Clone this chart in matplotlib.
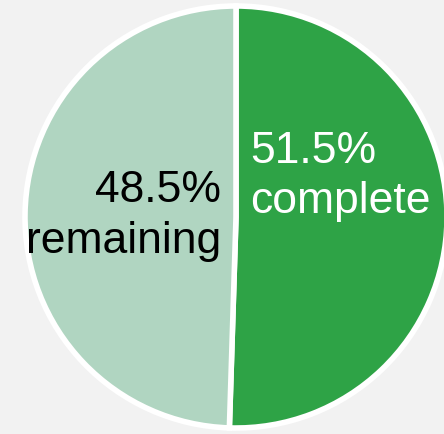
import matplotlib
matplotlib.use("Agg")
import matplotlib.pyplot as plt

# data (wedge sizes as drawn in the picture, label texts as printed)
labels = ["complete", "remaining"]
values = [50.5, 49.5]
label_pct = ["51.5%", "48.5%"]
colors = ["#2ea346", "#b0d5c1"]

plt.rcParams['font.family'] = ['Liberation Sans', 'DejaVu Sans']

fig = plt.figure(figsize=(4.44, 4.35), dpi=100, facecolor="#f2f2f2")
ax = fig.add_axes([0, 0, 1, 1])
ax.set_facecolor("#f2f2f2")

ax.pie(values, colors=colors, startangle=90, counterclock=False,
       center=(236, 217), radius=211,
       wedgeprops=dict(edgecolor="white", linewidth=4))

ax.set_xlim(0, 444)
ax.set_ylim(0, 435)
ax.set_aspect("equal")
ax.axis("off")

# labels, one line at a time
ax.text(250, 272, label_pct[0], ha="left", va="baseline", fontsize=32, color="white")
ax.text(250, 222, labels[0], ha="left", va="baseline", fontsize=32, color="white")
ax.text(221, 233, label_pct[1], ha="right", va="baseline", fontsize=32, color="black")
ax.text(221, 182, labels[1], ha="right", va="baseline", fontsize=32, color="black")

fig.savefig("out.png", dpi=100, facecolor=fig.get_facecolor())
